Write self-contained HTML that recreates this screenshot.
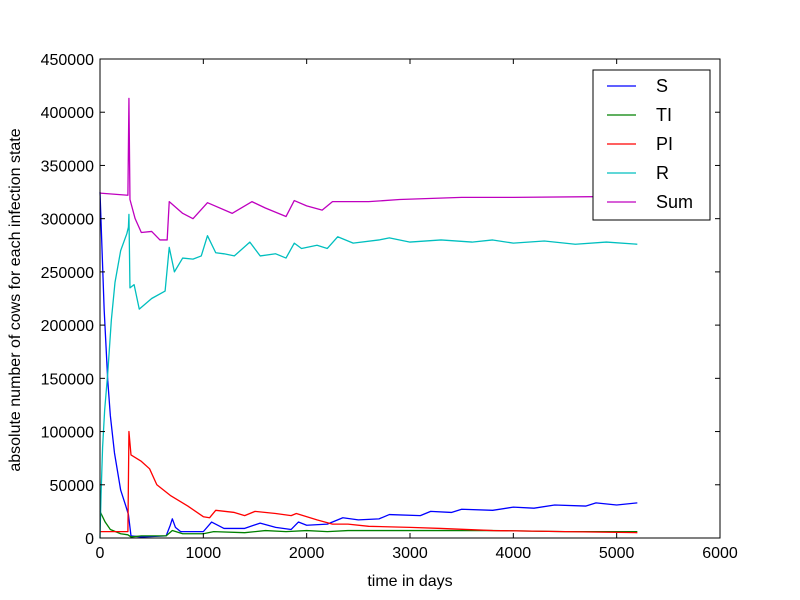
<!DOCTYPE html>
<html><head><meta charset="utf-8"><style>
body{margin:0;background:#fff;}
svg{font-family:"Liberation Sans",sans-serif;display:block}
</style></head><body>
<svg id="chart" width="800" height="600">
<rect x="0" y="0" width="800" height="600" fill="#fff"/>
<g id="plot"></g>
</svg>
<script>
const xTicks=[0,1000,2000,3000,4000,5000,6000];
const yTicks=[0,50000,100000,150000,200000,250000,300000,350000,400000,450000];
const sDays=[0,20,40,75,100,140,200,250,275,300,400,640,680,700,730,780,1000,1080,1200,1400,1550,1700,1850,1920,2000,2200,2350,2500,2700,2800,3100,3200,3400,3500,3800,4000,4200,4400,4700,4800,5000,5200];
const sVals=[325000,270000,215000,148000,115000,80000,45000,30000,22000,2000,1000,2000,12000,18000,10000,6000,6000,15000,9000,9000,14000,10000,8000,15000,12000,13000,19000,17000,18000,22000,21000,25000,24000,27000,26000,29000,28000,31000,30000,33000,31000,33000];
const tiDays=[0,50,100,200,270,300,400,640,700,800,1000,1100,1400,1600,1800,2000,2200,2400,3000,3800,4500,5200];
const tiVals=[25000,15000,8000,4000,3000,1000,2000,2000,7000,4000,4000,6000,5000,7000,6000,7000,6000,7000,7000,7000,6000,6000];
const piDays=[0,270,280,300,400,480,550,680,850,1000,1060,1120,1300,1400,1500,1700,1850,1900,2100,2250,2400,2600,3000,3300,3800,4500,5200];
const piVals=[6000,6000,100000,78000,72000,65000,50000,40000,30000,20000,19000,26000,24000,21000,25000,23000,21000,23000,17000,13000,13000,11000,10000,9000,7000,6000,5000];
const rDays=[0,10,25,45,75,110,145,200,260,275,280,290,330,380,500,630,670,720,800,900,980,1040,1120,1200,1300,1450,1550,1700,1800,1880,1950,2100,2200,2300,2450,2700,2800,3000,3300,3600,3800,4000,4300,4600,4900,5200];
const rVals=[0,40000,85000,120000,155000,205000,240000,270000,286000,292000,304000,235000,238000,215000,225000,232000,273000,250000,263000,262000,265000,284000,268000,267000,265000,278000,265000,267000,263000,277000,272000,275000,272000,283000,277000,280000,282000,278000,280000,278000,280000,277000,279000,276000,278000,276000];
const sumDays=[0,270,280,290,340,400,500,580,650,670,800,900,1040,1280,1470,1600,1800,1880,2000,2150,2250,2600,2900,3500,4000,5200];
const sumVals=[324000,322000,413000,318000,300000,287000,288000,280000,280000,316000,305000,300000,315000,305000,316000,310000,302000,317000,312000,308000,316000,316000,318000,320000,320000,321000];
const series=[["S","#0000ff",sDays,sVals],["TI","#008000",tiDays,tiVals],["PI","#ff0000",piDays,piVals],["R","#00bfbf",rDays,rVals],["Sum","#bf00bf",sumDays,sumVals]];
const X0=100,X1=720,Y0=538,Y1=59;
const xs=d=>X0+(d-0)/6000*(X1-X0);
const ys=v=>Y0-(v/450000)*(Y0-Y1);
const NS="http://www.w3.org/2000/svg";
const g=document.getElementById('plot');
function mk(t,a){const e=document.createElementNS(NS,t);for(const k in a)e.setAttribute(k,a[k]);g.appendChild(e);return e;}
series.forEach(s=>{
 const p=mk('polyline',{points:s[2].map((d,i)=>xs(d)+','+ys(s[3][i])).join(' '),fill:'none',stroke:s[1],'stroke-width':1.3,'stroke-linejoin':'round'});
 
 
});
const fr=mk('rect',{x:X0,y:Y1,width:X1-X0,height:Y0-Y1,fill:'none',stroke:'#000','stroke-width':1});


xTicks.forEach(t=>{
 const x=xs(t);
 mk('line',{x1:x,y1:Y0,x2:x,y2:Y0-5,stroke:'#000'});
 mk('line',{x1:x,y1:Y1,x2:x,y2:Y1+5,stroke:'#000'});
 const tx=mk('text',{x:x,y:Y0+20,'text-anchor':'middle','font-size':16});
 tx.textContent=t;
 
 
});
yTicks.forEach(t=>{
 const y=ys(t);
 mk('line',{x1:X0,y1:y,x2:X0+5,y2:y,stroke:'#000'});
 mk('line',{x1:X1,y1:y,x2:X1-5,y2:y,stroke:'#000'});
 const tx=mk('text',{x:X0-6,y:y+6,'text-anchor':'end','font-size':16});
 tx.textContent=t;
 
 
});
const xt=mk('text',{x:410,y:586,'text-anchor':'middle','font-size':16});
xt.textContent='time in days';


const yt=mk('text',{x:0,y:0,'text-anchor':'middle','font-size':16,transform:'translate(20,300) rotate(-90)'});
yt.textContent='absolute number of cows for each infection state';


const lg=mk('rect',{x:593,y:70,width:117,height:150,fill:'#fff',stroke:'#000','stroke-width':1});


series.forEach((s,i)=>{
 const y=86+i*29;
 const l=mk('line',{x1:607,y1:y,x2:636,y2:y,stroke:s[1],'stroke-width':1.3});
 
 
 const t=mk('text',{x:656,y:y+6,'font-size':18});
 t.textContent=s[0];
 
 
});
</script>
</body></html>
